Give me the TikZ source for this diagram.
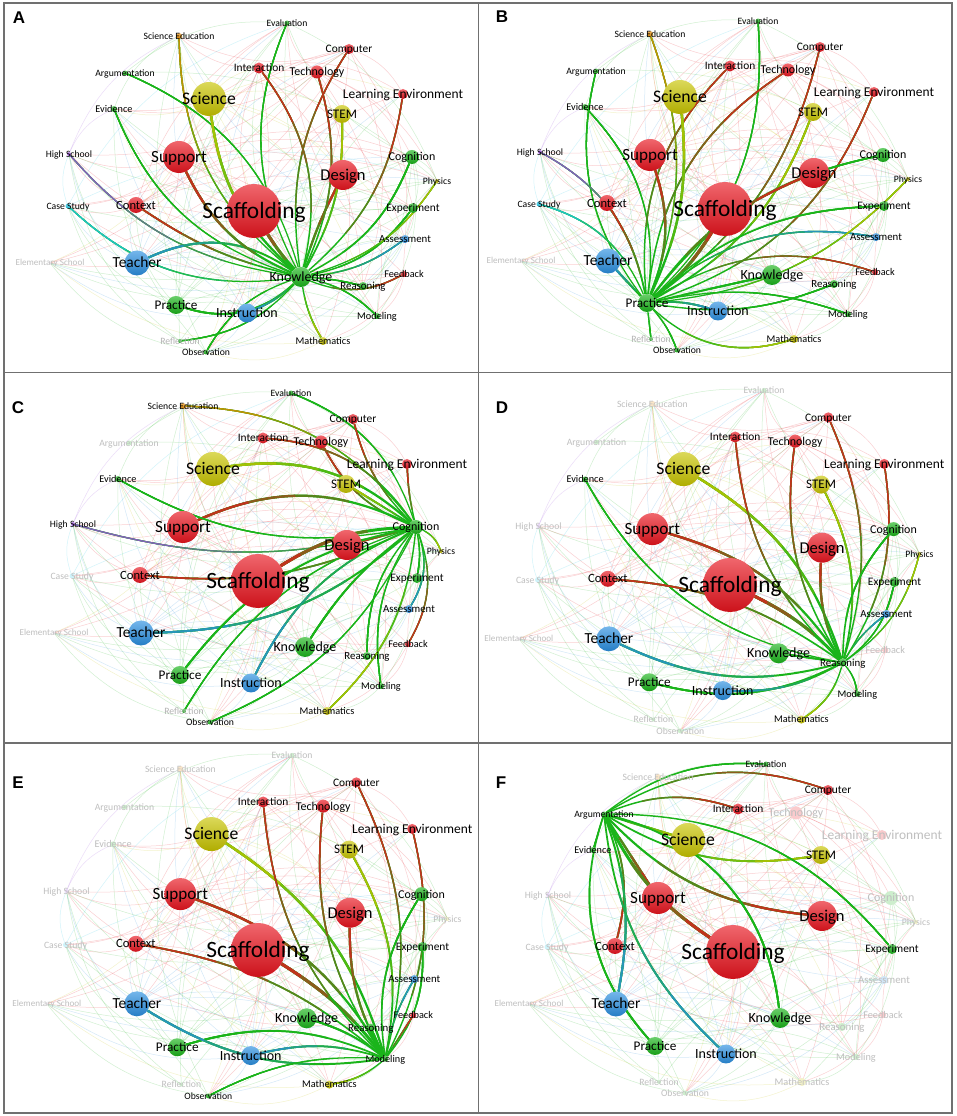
\documentclass[tikz,border=0pt]{standalone}
\usepackage{fontspec}
\setmainfont{Carlito}
\newfontfamily\letterfont{Liberation Sans}
\usetikzlibrary{calc}
\definecolor{cR}{HTML}{E8141E}
\definecolor{cY}{HTML}{C8C400}
\definecolor{cG}{HTML}{1AB41A}
\definecolor{cB}{HTML}{2A8FE0}
\definecolor{cO}{HTML}{E88A00}
\definecolor{cP}{HTML}{9B4FE0}
\definecolor{cC}{HTML}{22C8E8}
\definecolor{cE}{HTML}{C8A0D0}
\definecolor{framec}{HTML}{707070}
\pgfdeclarelayer{bg}
\pgfdeclarelayer{web}
\pgfdeclarelayer{edges}
\pgfdeclarelayer{labels}
\pgfsetlayers{bg,web,edges,main,labels}
\tikzset{
  lbl/.style={inner sep=0pt, anchor=base},
  panelframe/.style={draw=framec, line width=1.3pt},
  panelletter/.style={font=\letterfont\bfseries\fontsize{17}{17}\selectfont, anchor=center, inner sep=0pt},
  webline/.style={opacity=0.2, line width=0.5pt},
}
\makeatletter
\newcommand\nd[7]{%
  \expandafter\xdef\csname col#1\endcsname{#5}%
  \expandafter\xdef\csname rad#1\endcsname{#4}%
  \pgfmathsetmacro\fsz{#7*1.14}%
  \edef\tmp{\noexpand\in@{,#1,}{\fadedlist}}\tmp
  \ifin@
    \node[circle, inner sep=0pt, minimum size=2*#4pt, fill=#5!22!white] (\pfx-#1) at (#2,{-1*(#3)}) {};
    \def\lcol{black!25}%
  \else
    \node[circle, inner sep=0pt, minimum size=2*#4pt, top color=#5!65!white, bottom color=#5!88!black] (\pfx-#1) at (#2,{-1*(#3)}) {};
    \in@{,#1,}{,Ref,Ele,}%
    \ifin@\def\lcol{black!30}\else\def\lcol{black}\fi
  \fi
  \begin{pgfonlayer}{labels}
    \node[lbl, text=\lcol, font=\fontsize{\fsz}{\fsz}\selectfont] (\pfx-#1-t) at (#2,{-1*(#3)-0.32*\fsz}) {#6};
  \end{pgfonlayer}%
}
\makeatother
\newcommand\allnodes{%
  \nd{Scaf}{0}{0}{27}{cR}{Scaffolding}{20.5}%
  \nd{Sci}{-45}{-112}{17}{cY}{Science}{15.5}%
  \nd{Sup}{-75}{-54}{16}{cR}{Support}{15}%
  \nd{Des}{89}{-36}{15}{cR}{Design}{14.5}%
  \nd{Tea}{-117}{52}{12.5}{cB}{Teacher}{13.5}%
  \nd{Kno}{47}{66}{10}{cG}{Knowledge}{12.3}%
  \nd{Ins}{-7}{102}{9.5}{cB}{Instruction}{12.3}%
  \nd{Pra}{-78}{94}{9}{cG}{Practice}{11.6}%
  \nd{STEM}{88}{-97}{9}{cY}{STEM}{11.5}%
  \nd{Con}{-118}{-6}{8}{cR}{Context}{11}%
  \nd{Com}{95}{-162}{5}{cR}{Computer}{10}%
  \nd{Int}{5}{-143}{5.5}{cR}{Interaction}{10}%
  \nd{Tec}{63}{-139}{6.5}{cR}{Technology}{10.5}%
  \nd{LE}{149}{-117}{5}{cR}{Learning Environment}{11.8}%
  \nd{Cog}{158}{-54}{7}{cG}{Cognition}{10.5}%
  \nd{Exp}{159}{-3}{5}{cG}{Experiment}{10}%
  \nd{Ass}{151}{28}{4}{cB}{Assessment}{9.5}%
  \nd{Fee}{150}{63}{3}{cR}{Feedback}{9}%
  \nd{Rea}{109}{75}{4}{cG}{Reasoning}{9.5}%
  \nd{Mod}{123}{105}{3}{cG}{Modeling}{9}%
  \nd{Mat}{69}{130}{4}{cY}{Mathematics}{9}%
  \nd{Obs}{-48}{141}{2.5}{cG}{Observation}{8.5}%
  \nd{Ref}{-74}{130}{2}{cG}{Reflection}{8.5}%
  \nd{Ele}{-204}{52}{1.5}{cE}{Elementary School}{8}%
  \nd{Cas}{-186}{-5}{2.5}{cC}{Case Study}{8.5}%
  \nd{Hig}{-185}{-57}{2}{cP}{High School}{8.5}%
  \nd{Evi}{-140}{-102}{3}{cG}{Evidence}{9}%
  \nd{Arg}{-129}{-138}{2.5}{cG}{Argumentation}{8.5}%
  \nd{SEd}{-75}{-175}{3}{cO}{Science Education}{8.5}%
  \nd{Eva}{33}{-188}{2.5}{cG}{Evaluation}{8.5}%
  \nd{Phy}{183}{-30}{2}{cY}{Physics}{8.5}%
}
\def\nodelist{Scaf,Sci,Sup,Des,Tea,Kno,Ins,Pra,STEM,Con,Com,Int,Tec,LE,Cog,Exp,Ass,Fee,Rea,Mod,Mat,Obs,Ref,Ele,Cas,Hig,Evi,Arg,SEd,Eva,Phy}
\newcommand\webnet{%
  \foreach \a [count=\i] in \nodelist {%
    \foreach \b [count=\j] in \nodelist {%
      \ifnum\j>\i\relax
        \pgfmathtruncatemacro\k{mod(\i*7+\j*11+\i*\j,5)}%
        \ifnum\k<2\relax
          \edef\cc{\csname col\a\endcsname}%
          \draw[webline, draw=\cc] (\pfx-\a.center) to[bend left=22] (\pfx-\b.center);
        \fi
      \fi}}}
\newcommand\panel[5]{%
  \begin{scope}[shift={(#2,#3)}, scale=#4]
    \def\pfx{#1}\def\fadedlist{,#5,}%
    \allnodes
    \begin{pgfonlayer}{web}\webnet\end{pgfonlayer}
  \end{scope}}
% gradient-like connector: hub colour fading into the target colour
\newcommand\E[2]{%
  \edef\ca{\csname col\hub\endcsname}\edef\cb{\csname col#1\endcsname}%
  \pgfmathsetmacro\w{1.1+0.07*\csname rad#1\endcsname}%
  \draw[line width=\w pt, draw=\ca] (\pfx-\hub) to[bend left=#2] (\pfx-#1);
  \foreach \f/\m in {0.72/70,0.5/45,0.3/20} {%
    \begin{scope}
      \clip let \p1=(\pfx-\hub.center), \p2=(\pfx-#1.center), \n1={veclen(\x2-\x1,\y2-\y1)} in (\p2) circle[radius=\f*\n1];
      \draw[line width=\w pt, draw=\ca!\m!\cb] (\pfx-\hub) to[bend left=#2] (\pfx-#1);
    \end{scope}}%
}
\begin{document}
\begin{tikzpicture}[x=1pt,y=1pt]
\useasboundingbox (0,0) rectangle (957,1116);
\begin{pgfonlayer}{bg}
\fill[white] (0,0) rectangle (957,1116);
\end{pgfonlayer}
% frames
\draw[panelframe] (4,3) rectangle (952,1113);
\draw[panelframe] (478.5,3) -- (478.5,1113);
\draw[panelframe] (4,743.5) -- (952,743.5);
\draw[panelframe] (4,373) -- (952,373);
\node[panelletter] (lA) at (19,1098) {A};
\node[panelletter] (lB) at (502,1099) {B};
\node[panelletter] (lC) at (18,708) {C};
\node[panelletter] (lD) at (502,708) {D};
\node[panelletter] (lE) at (18,333) {E};
\node[panelletter] (lF) at (501,333) {F};
% panels
\panel{A}{254}{905}{1}{Ele}
\panel{B}{725}{907}{1}{Ele}
\panel{C}{258}{535}{1}{Arg,Cas,Ele}
\panel{D}{730}{531}{1.035}{Eva,SEd,Arg,Hig,Cas,Ele,Fee,Ref,Obs}
\panel{E}{258}{166}{1.035}{Eva,SEd,Arg,Evi,Hig,Cas,Ele,Phy,Ref}
\panel{F}{733}{164}{1}{SEd,Tec,LE,Hig,Cog,Phy,Cas,Ele,Ass,Fee,Rea,Mod,Mat,Ref,Obs}
\begin{pgfonlayer}{edges}
\def\pfx{A}\def\hub{Kno}
\E{Eva}{25}\E{SEd}{25}\E{Arg}{-25}\E{Evi}{25}\E{Hig}{20}\E{Cas}{25}\E{Con}{10}\E{Tea}{-30}\E{Pra}{30}\E{Ins}{10}\E{Ref}{20}\E{Obs}{-20}\E{Mat}{-10}\E{Mod}{15}\E{Rea}{5}\E{Fee}{-25}\E{Ass}{-15}\E{Exp}{-20}\E{Phy}{-20}\E{Cog}{-20}\E{LE}{-20}\E{Des}{5}\E{STEM}{-15}\E{Tec}{-20}\E{Com}{20}\E{Int}{-25}\E{Sci}{20}\E{Sup}{20}\E{Scaf}{5}
\def\pfx{B}\def\hub{Pra}
\E{Eva}{-25}\E{SEd}{-20}\E{Arg}{25}\E{Evi}{-25}\E{Int}{25}\E{Tec}{25}\E{Com}{-20}\E{LE}{-25}\E{STEM}{-20}\E{Cog}{20}\E{Des}{15}\E{Sup}{-20}\E{Sci}{-15}\E{Scaf}{-10}\E{Hig}{-25}\E{Cas}{-25}\E{Con}{-10}\E{Tea}{0}\E{Exp}{20}\E{Ass}{25}\E{Fee}{25}\E{Phy}{-20}\E{Kno}{0}\E{Rea}{-15}\E{Mod}{15}\E{Ins}{10}\E{Mat}{-30}\E{Ref}{0}\E{Obs}{10}
\def\pfx{C}\def\hub{Cog}
\E{Eva}{-25}\E{SEd}{-25}\E{Com}{15}\E{Tec}{20}\E{Int}{-25}\E{LE}{5}\E{STEM}{0}\E{Sci}{-25}\E{Sup}{-25}\E{Evi}{20}\E{Hig}{15}\E{Con}{15}\E{Scaf}{-15}\E{Des}{0}\E{Phy}{20}\E{Exp}{10}\E{Ass}{25}\E{Fee}{25}\E{Tea}{20}\E{Kno}{-10}\E{Rea}{-20}\E{Mod}{-20}\E{Mat}{20}\E{Ins}{-20}\E{Pra}{-20}\E{Ref}{-20}\E{Obs}{20}
\def\pfx{D}\def\hub{Rea}
\E{Evi}{25}\E{Sci}{-20}\E{Sup}{-20}\E{Con}{-15}\E{Scaf}{-10}\E{Int}{20}\E{Tec}{20}\E{Com}{-20}\E{LE}{-20}\E{STEM}{-20}\E{Des}{15}\E{Cog}{20}\E{Phy}{-20}\E{Exp}{-20}\E{Ass}{10}\E{Kno}{0}\E{Tea}{20}\E{Pra}{20}\E{Ins}{15}\E{Mod}{15}\E{Mat}{20}
\def\pfx{E}\def\hub{Mod}
\E{Sci}{-20}\E{Sup}{-20}\E{Con}{-15}\E{Scaf}{-10}\E{Int}{20}\E{Tec}{20}\E{Com}{-20}\E{LE}{-20}\E{STEM}{-20}\E{Des}{15}\E{Cog}{20}\E{Exp}{-20}\E{Ass}{10}\E{Fee}{0}\E{Rea}{0}\E{Kno}{-10}\E{Pra}{-20}\E{Tea}{20}\E{Ins}{-15}\E{Obs}{-15}\E{Mat}{15}
\def\pfx{F}\def\hub{Arg}
\E{Eva}{20}\E{Com}{25}\E{Int}{20}\E{Sci}{0}\E{STEM}{-20}\E{Exp}{25}\E{Des}{-20}\E{Sup}{0}\E{Scaf}{-15}\E{Kno}{35}\E{Evi}{0}\E{Con}{20}\E{Tea}{15}\E{Pra}{-30}\E{Ins}{-20}
\end{pgfonlayer}
\end{tikzpicture}
\end{document}
